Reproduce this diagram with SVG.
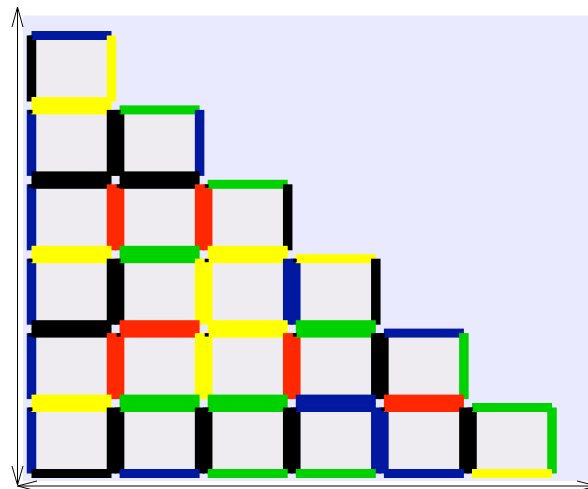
<svg xmlns="http://www.w3.org/2000/svg" width="588" height="489" viewBox="0 0 588 489">
<style>
.t{fill:#eeecf0}
.k{fill:#000000}
.b{fill:#0019a0}
.y{fill:#ffff00}
.g{fill:#00d200}
.r{fill:#ff2800}
.ax{stroke:#000;stroke-width:1;fill:none}
</style>
<defs>
<rect id="bg" class="t" x="0" y="0" width="80" height="66"/>
</defs>
<rect x="23" y="15.5" width="565" height="465.5" fill="#eaeaff"/>
<g id="tiles">
<g id="tile-0-0" transform="translate(31.5,35.5)"><use href="#bg"/><rect class="k" x="-4.75" y="0" width="9.5" height="66"/><rect class="b" x="0" y="-4.5" width="80" height="9"/><rect class="y" x="75.25" y="0" width="9.5" height="66"/><rect class="y" x="0" y="61.5" width="80" height="9"/><rect class="k" x="-3" y="0" width="4" height="3.5"/></g>

<g id="tile-1-0" transform="translate(31.5,109.9)"><use href="#bg"/><rect class="b" x="-4.75" y="0" width="9.5" height="66"/><rect class="y" x="0" y="-4.5" width="80" height="9"/><rect class="k" x="75.25" y="0" width="9.5" height="66"/><rect class="k" x="0" y="61.5" width="80" height="9"/><rect class="k" x="-3" y="0" width="4" height="3.5"/></g>
<g id="tile-1-1" transform="translate(119.6,109.9)"><use href="#bg"/><rect class="k" x="-4.75" y="0" width="9.5" height="66"/><rect class="g" x="0" y="-4.5" width="80" height="9"/><rect class="b" x="75.25" y="0" width="9.5" height="66"/><rect class="k" x="0" y="61.5" width="80" height="9"/><rect class="k" x="-3" y="0" width="4" height="3.5"/></g>

<g id="tile-2-0" transform="translate(31.5,184.3)"><use href="#bg"/><rect class="b" x="-4.75" y="0" width="9.5" height="66"/><rect class="k" x="0" y="-4.5" width="80" height="9"/><rect class="r" x="75.25" y="0" width="9.5" height="66"/><rect class="y" x="0" y="61.5" width="80" height="9"/><rect class="k" x="-3" y="0" width="4" height="3.5"/></g>
<g id="tile-2-1" transform="translate(119.6,184.3)"><use href="#bg"/><rect class="r" x="-4.75" y="0" width="9.5" height="66"/><rect class="k" x="0" y="-4.5" width="80" height="9"/><rect class="r" x="75.25" y="0" width="9.5" height="66"/><rect class="g" x="0" y="61.5" width="80" height="9"/><rect class="k" x="-3" y="0" width="4" height="3.5"/></g>
<g id="tile-2-2" transform="translate(207.7,184.3)"><use href="#bg"/><rect class="r" x="-4.75" y="0" width="9.5" height="66"/><rect class="g" x="0" y="-4.5" width="80" height="9"/><rect class="k" x="75.25" y="0" width="9.5" height="66"/><rect class="y" x="0" y="61.5" width="80" height="9"/><rect class="k" x="-3" y="0" width="4" height="3.5"/></g>

<g id="tile-3-0" transform="translate(31.5,258.7)"><use href="#bg"/><rect class="b" x="-4.75" y="0" width="9.5" height="66"/><rect class="y" x="0" y="-4.5" width="80" height="9"/><rect class="k" x="75.25" y="0" width="9.5" height="66"/><rect class="k" x="0" y="61.5" width="80" height="9"/><rect class="k" x="-3" y="0" width="4" height="3.5"/></g>
<g id="tile-3-1" transform="translate(119.6,258.7)"><use href="#bg"/><rect class="k" x="-4.75" y="0" width="9.5" height="66"/><rect class="g" x="0" y="-4.5" width="80" height="9"/><rect class="y" x="75.25" y="0" width="9.5" height="66"/><rect class="r" x="0" y="61.5" width="80" height="9"/><rect class="k" x="-3" y="0" width="4" height="3.5"/></g>
<g id="tile-3-2" transform="translate(207.7,258.7)"><use href="#bg"/><rect class="y" x="-4.75" y="0" width="9.5" height="66"/><rect class="y" x="0" y="-4.5" width="80" height="9"/><rect class="b" x="75.25" y="0" width="9.5" height="66"/><rect class="y" x="0" y="61.5" width="80" height="9"/><rect class="k" x="-3" y="0" width="4" height="3.5"/></g>
<g id="tile-3-3" transform="translate(295.8,258.7)"><use href="#bg"/><rect class="b" x="-4.75" y="0" width="9.5" height="66"/><rect class="y" x="0" y="-4.5" width="80" height="9"/><rect class="k" x="75.25" y="0" width="9.5" height="66"/><rect class="g" x="0" y="61.5" width="80" height="9"/><rect class="k" x="-3" y="0" width="4" height="3.5"/></g>

<g id="tile-4-0" transform="translate(31.5,333.1)"><use href="#bg"/><rect class="b" x="-4.75" y="0" width="9.5" height="66"/><rect class="k" x="0" y="-4.5" width="80" height="9"/><rect class="r" x="75.25" y="0" width="9.5" height="66"/><rect class="y" x="0" y="61.5" width="80" height="9"/><rect class="k" x="-3" y="0" width="4" height="3.5"/></g>
<g id="tile-4-1" transform="translate(119.6,333.1)"><use href="#bg"/><rect class="r" x="-4.75" y="0" width="9.5" height="66"/><rect class="r" x="0" y="-4.5" width="80" height="9"/><rect class="y" x="75.25" y="0" width="9.5" height="66"/><rect class="g" x="0" y="61.5" width="80" height="9"/><rect class="k" x="-3" y="0" width="4" height="3.5"/></g>
<g id="tile-4-2" transform="translate(207.7,333.1)"><use href="#bg"/><rect class="y" x="-4.75" y="0" width="9.5" height="66"/><rect class="y" x="0" y="-4.5" width="80" height="9"/><rect class="r" x="75.25" y="0" width="9.5" height="66"/><rect class="g" x="0" y="61.5" width="80" height="9"/><rect class="k" x="-3" y="0" width="4" height="3.5"/></g>
<g id="tile-4-3" transform="translate(295.8,333.1)"><use href="#bg"/><rect class="r" x="-4.75" y="0" width="9.5" height="66"/><rect class="g" x="0" y="-4.5" width="80" height="9"/><rect class="k" x="75.25" y="0" width="9.5" height="66"/><rect class="b" x="0" y="61.5" width="80" height="9"/><rect class="k" x="-3" y="0" width="4" height="3.5"/></g>
<g id="tile-4-4" transform="translate(383.9,333.1)"><use href="#bg"/><rect class="k" x="-4.75" y="0" width="9.5" height="66"/><rect class="b" x="0" y="-4.5" width="80" height="9"/><rect class="g" x="75.25" y="0" width="9.5" height="66"/><rect class="r" x="0" y="61.5" width="80" height="9"/><rect class="k" x="-3" y="0" width="4" height="3.5"/></g>

<g id="tile-5-0" transform="translate(31.5,407.5)"><use href="#bg"/><rect class="b" x="-4.75" y="0" width="9.5" height="66"/><rect class="y" x="0" y="-4.5" width="80" height="9"/><rect class="k" x="75.25" y="0" width="9.5" height="66"/><rect class="k" x="0" y="61.5" width="80" height="9"/><rect class="k" x="-3" y="0" width="4" height="3.5"/></g>
<g id="tile-5-1" transform="translate(119.6,407.5)"><use href="#bg"/><rect class="k" x="-4.75" y="0" width="9.5" height="66"/><rect class="g" x="0" y="-4.5" width="80" height="9"/><rect class="k" x="75.25" y="0" width="9.5" height="66"/><rect class="b" x="0" y="61.5" width="80" height="9"/><rect class="k" x="-3" y="0" width="4" height="3.5"/></g>
<g id="tile-5-2" transform="translate(207.7,407.5)"><use href="#bg"/><rect class="k" x="-4.75" y="0" width="9.5" height="66"/><rect class="g" x="0" y="-4.5" width="80" height="9"/><rect class="k" x="75.25" y="0" width="9.5" height="66"/><rect class="g" x="0" y="61.5" width="80" height="9"/><rect class="k" x="-3" y="0" width="4" height="3.5"/></g>
<g id="tile-5-3" transform="translate(295.8,407.5)"><use href="#bg"/><rect class="k" x="-4.75" y="0" width="9.5" height="66"/><rect class="b" x="0" y="-4.5" width="80" height="9"/><rect class="b" x="75.25" y="0" width="9.5" height="66"/><rect class="g" x="0" y="61.5" width="80" height="9"/><rect class="k" x="-3" y="0" width="4" height="3.5"/></g>
<g id="tile-5-4" transform="translate(383.9,407.5)"><use href="#bg"/><rect class="b" x="-4.75" y="0" width="9.5" height="66"/><rect class="r" x="0" y="-4.5" width="80" height="9"/><rect class="k" x="75.25" y="0" width="9.5" height="66"/><rect class="b" x="0" y="61.5" width="80" height="9"/><rect class="k" x="-3" y="0" width="4" height="3.5"/></g>
<g id="tile-5-5" transform="translate(472,407.5)"><use href="#bg"/><rect class="k" x="-4.75" y="0" width="9.5" height="66"/><rect class="g" x="0" y="-4.5" width="80" height="9"/><rect class="g" x="75.25" y="0" width="9.5" height="66"/><rect class="y" x="0" y="61.5" width="80" height="9"/><rect class="k" x="-3" y="0" width="4" height="3.5"/></g>
</g>
<g id="axes">
<line class="ax" x1="17.5" y1="7" x2="17.5" y2="485"/>
<polyline class="ax" points="12,27 17.5,7 23,27"/>
<polyline class="ax" points="12,466 17.5,485 23,466"/>
<line class="ax" x1="17.5" y1="486" x2="600" y2="486"/>
<polyline class="ax" points="37,481 17.5,486 37,491"/>
<polyline class="ax" points="577,481 597,486 577,491"/>
</g>
</svg>
